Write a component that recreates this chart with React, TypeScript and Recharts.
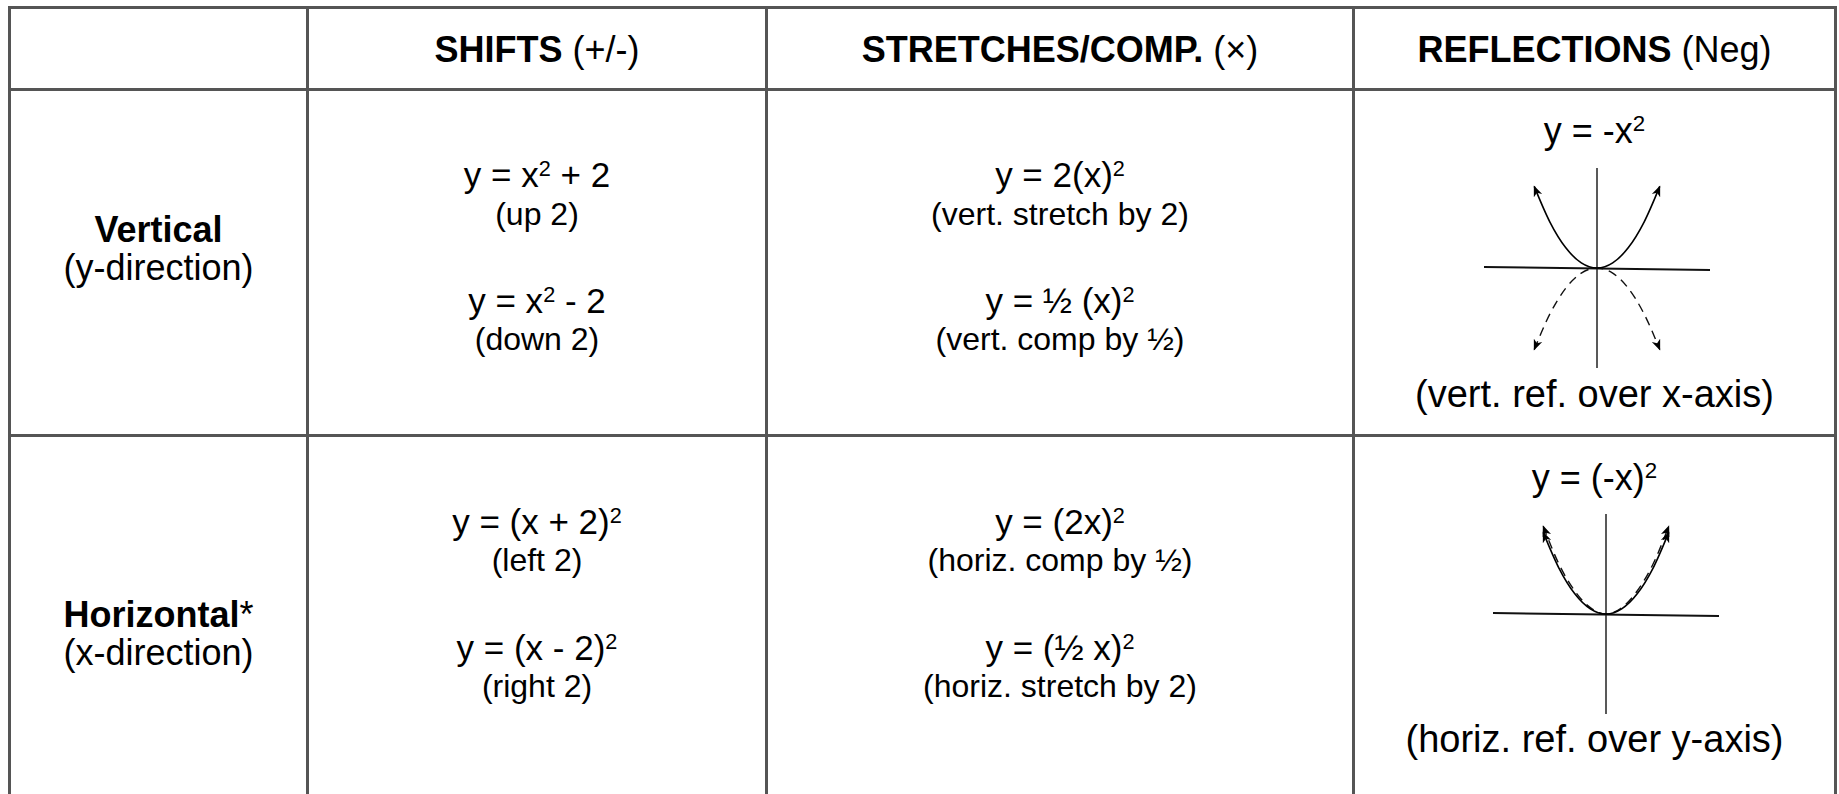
import React from 'react';
import { LineChart, Line, XAxis, YAxis, ReferenceLine } from 'recharts';

// table headings
const columnTitles = ['', 'SHIFTS', 'STRETCHES/COMP.', 'REFLECTIONS'];
const columnNotes = ['', '(+/-)', '(×)', '(Neg)'];
const rowTitles = ['Vertical', 'Horizontal'];
const rowMarks = ['', '*'];
const rowNotes = ['(y-direction)', '(x-direction)'];

// formulas as [before superscript, superscript, after]
const shiftFormulas = [
  [['y = x', '2', ' + 2'], ['y = x', '2', ' - 2']],
  [['y = (x + 2)', '2', ''], ['y = (x - 2)', '2', '']],
];
const shiftNotes = [['(up 2)', '(down 2)'], ['(left 2)', '(right 2)']];
const stretchFormulas = [
  [['y = 2(x)', '2', ''], ['y = ½ (x)', '2', '']],
  [['y = (2x)', '2', ''], ['y = (½ x)', '2', '']],
];
const stretchNotes = [
  ['(vert. stretch by 2)', '(vert. comp by ½)'],
  ['(horiz. comp by ½)', '(horiz. stretch by 2)'],
];
const reflectFormulas = [['y = -x', '2', ''], ['y = (-x)', '2', '']];
const reflectNotes = ['(vert. ref. over x-axis)', '(horiz. ref. over y-axis)'];

// points of the little parabola sketches
const sketchX = [-2, -1.5, -1, -0.5, 0, 0.5, 1, 1.5, 2];
const parentY = [4, 2.25, 1, 0.25, 0, 0.25, 1, 2.25, 4];
const vertReflectY = [-4, -2.25, -1, -0.25, 0, -0.25, -1, -2.25, -4];
const horizReflectY = [4.3, 2.45, 1.14, 0.31, 0, 0.31, 1.14, 2.45, 4.3];

const colEdges = [9.5, 307.5, 766.5, 1353.5, 1835.5];
const rowEdges = [7.5, 89.5, 435.5];
const LINE = '#555';
const FONT = '"Liberation Sans", Arial, sans-serif';

type Formula = string[];

function Text({ col, baseline, size, children }: { col: number; baseline: number; size: number; children: React.ReactNode }) {
  const left = colEdges[col];
  const width = colEdges[col + 1] - colEdges[col];
  return (
    <div
      style={{
        position: 'absolute',
        left,
        width,
        top: baseline - size * 0.92,
        fontSize: size,
        lineHeight: 1.15,
        textAlign: 'center',
        whiteSpace: 'nowrap',
      }}
    >
      {children}
    </div>
  );
}

function Formula({ f }: { f: Formula }) {
  return (
    <>
      {f[0]}
      <span style={{ fontSize: '0.62em', position: 'relative', top: '-0.52em' }}>{f[1]}</span>
      {f[2]}
    </>
  );
}

function Sketch({ solidY, dashedY, cx, cy }: { solidY: number[]; dashedY: number[]; cx: number; cy: number }) {
  const data = sketchX.map((x, i) => ({ x, solid: solidY[i], dashed: dashedY[i] }));
  return (
    <div style={{ position: 'absolute', left: cx - 113, top: cy - 100 }}>
      <LineChart width={226} height={200} data={data} margin={{ top: 0, right: 0, bottom: 0, left: 0 }}>
        <XAxis type="number" dataKey="x" domain={[-3.6, 3.6]} hide />
        <YAxis type="number" domain={[-4.9, 4.9]} hide />
        <ReferenceLine segment={[{ x: -3.6, y: 0.05 }, { x: 3.6, y: -0.1 }]} stroke="#111" strokeWidth={2} />
        <ReferenceLine x={0} stroke="#222" strokeWidth={1.5} />
        <Line
          dataKey="dashed"
          type="monotone"
          stroke="#111"
          strokeWidth={1.4}
          strokeDasharray="9 6"
          dot={false}
          isAnimationActive={false}
          markerStart="url(#sketchArrow)"
          markerEnd="url(#sketchArrow)"
        />
        <Line
          dataKey="solid"
          type="monotone"
          stroke="#000"
          strokeWidth={1.6}
          dot={false}
          isAnimationActive={false}
          markerStart="url(#sketchArrow)"
          markerEnd="url(#sketchArrow)"
        />
      </LineChart>
    </div>
  );
}

export default function App() {
  const rowBase = [
    { label: 242, f: [187, 313], n: [225, 350], rf: 143, rn: 408 },
    { label: 627, f: [534, 660], n: [571, 697], rf: 490, rn: 753 },
  ];
  return (
    <div
      style={{
        position: 'absolute',
        left: 0,
        top: 0,
        width: 1839,
        height: 794,
        overflow: 'hidden',
        background: '#fff',
        fontFamily: FONT,
        color: '#000',
      }}
    >
      <svg width={0} height={0} style={{ position: 'absolute' }}>
        <defs>
          <marker
            id="sketchArrow"
            viewBox="0 0 12 10"
            refX={10}
            refY={5}
            markerWidth={12}
            markerHeight={10}
            markerUnits="userSpaceOnUse"
            orient="auto-start-reverse"
          >
            <path d="M0,0.5 L11,5 L0,9.5 L3,5 Z" fill="#000" />
          </marker>
        </defs>
      </svg>

      {/* grid lines */}
      {colEdges.map((x) => (
        <div key={`c${x}`} style={{ position: 'absolute', left: x - 1.5, top: 6, width: 3, height: 800, background: LINE }} />
      ))}
      {rowEdges.map((y) => (
        <div key={`r${y}`} style={{ position: 'absolute', left: 8, top: y - 1.5, width: 1829, height: 3, background: LINE }} />
      ))}

      {/* header */}
      {columnTitles.map((t, i) =>
        t ? (
          <Text key={t} col={i} baseline={62} size={36}>
            <b>{t}</b> {columnNotes[i]}
          </Text>
        ) : null
      )}

      {rowBase.map((r, ri) => (
        <React.Fragment key={ri}>
          <Text col={0} baseline={r.label} size={36}>
            <b>{rowTitles[ri]}</b>
            {rowMarks[ri]}
          </Text>
          <Text col={0} baseline={r.label + 38} size={36}>
            {rowNotes[ri]}
          </Text>
          {[0, 1].map((k) => (
            <React.Fragment key={k}>
              <Text col={1} baseline={r.f[k]} size={35}>
                <Formula f={shiftFormulas[ri][k]} />
              </Text>
              <Text col={1} baseline={r.n[k]} size={32}>
                {shiftNotes[ri][k]}
              </Text>
              <Text col={2} baseline={r.f[k]} size={35}>
                <Formula f={stretchFormulas[ri][k]} />
              </Text>
              <Text col={2} baseline={r.n[k]} size={32}>
                {stretchNotes[ri][k]}
              </Text>
            </React.Fragment>
          ))}
          <Text col={3} baseline={r.rf} size={36}>
            <Formula f={reflectFormulas[ri]} />
          </Text>
          <Text col={3} baseline={r.rn} size={38}>
            {reflectNotes[ri]}
          </Text>
        </React.Fragment>
      ))}

      <Sketch solidY={parentY} dashedY={vertReflectY} cx={1597} cy={268} />
      <Sketch solidY={parentY} dashedY={horizReflectY} cx={1606} cy={614} />
    </div>
  );
}
